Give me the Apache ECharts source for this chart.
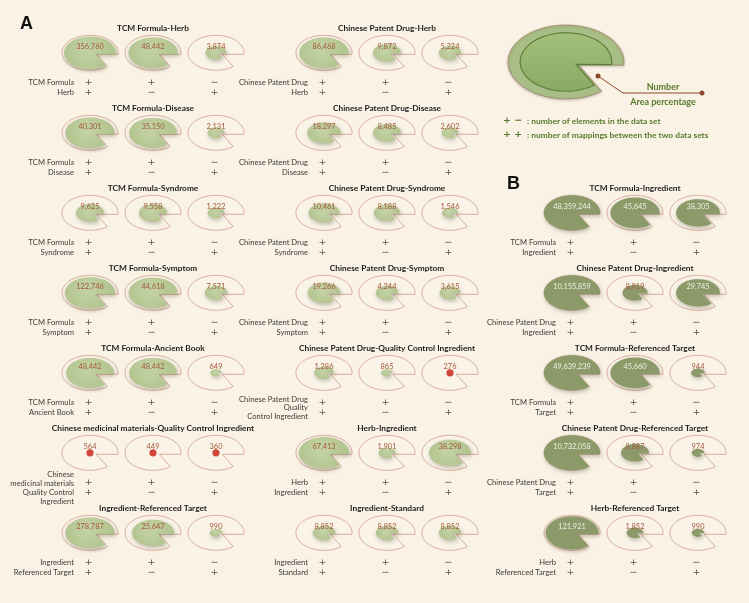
<!DOCTYPE html>
<html><head><meta charset="utf-8">
<script src="https://cdn.jsdelivr.net/npm/echarts@6/dist/echarts.min.js"></script>
<style>html,body{margin:0;padding:0;background:#faf2e5}#c{width:749px;height:603px}</style>
</head><body><div id="c"></div><script>
// ---------------- data ----------------
const panelTitles = [
 'TCM Formula-Herb','TCM Formula-Disease','TCM Formula-Syndrome','TCM Formula-Symptom','TCM Formula-Ancient Book','Chinese medicinal materials-Quality Control Ingredient','Ingredient-Referenced Target',
 'Chinese Patent Drug-Herb','Chinese Patent Drug-Disease','Chinese Patent Drug-Syndrome','Chinese Patent Drug-Symptom','Chinese Patent Drug-Quality Control Ingredient','Herb-Ingredient','Ingredient-Standard',
 'TCM Formula-Ingredient','Chinese Patent Drug-Ingredient','TCM Formula-Referenced Target','Chinese Patent Drug-Referenced Target','Herb-Referenced Target'];
const panelColumn = [0,0,0,0,0,0,0, 1,1,1,1,1,1,1, 2,2,2,2,2];
const panelRow    = [0,1,2,3,4,5,6, 0,1,2,3,4,5,6, 2,3,4,5,6];
const setLabels = [
 ['TCM Formula','Herb'],['TCM Formula','Disease'],['TCM Formula','Syndrome'],['TCM Formula','Symptom'],['TCM Formula','Ancient Book'],
 ['Chinese','medicinal materials','Quality Control','Ingredient'],['Ingredient','Referenced Target'],
 ['Chinese Patent Drug','Herb'],['Chinese Patent Drug','Disease'],['Chinese Patent Drug','Syndrome'],['Chinese Patent Drug','Symptom'],
 ['Chinese Patent Drug','Quality','Control Ingredient'],['Herb','Ingredient'],['Ingredient','Standard'],
 ['TCM Formula','Ingredient'],['Chinese Patent Drug','Ingredient'],['TCM Formula','Target'],['Chinese Patent Drug','Target'],['Herb','Referenced Target']];
const counts = [
 [356760,48442,3874],[40301,35150,2131],[9625,9558,1222],[122746,44618,7571],[48442,48442,649],[564,449,360],[278787,25647,990],
 [86468,9872,5224],[18297,8485,2602],[10461,8188,1546],[19266,4244,3615],[1286,865,276],[67413,1901,38298],[8852,8852,8852],
 [48359244,45645,38305],[10155859,8919,29745],[49639239,45660,944],[10732058,8887,974],[121921,1852,990]];
// estimated area percentage of the inner shape
const areaPercent = [
 [86,77,14],[77,72,9],[25,25,9],[80,75,16],[72,72,4],[0.5,0.5,0.5],[77,56,5],
 [77,25,16],[36,25,9],[30,22,8],[34,16,14],[12,4,0.5],[81,9,56],[16,16,16],
 [100,77,61],[100,20,61],[100,77,6],[100,25,5],[90,9,5]];
const signsTop    = ['+','+','\u2212'];
const signsBottom = ['+','\u2212','+'];
const sectionLetters = ['A','B'];

// ---------------- style ----------------
const FONT = 'Lato, "Open Sans", sans-serif';
const SIGN_FONT = '9.5px "DejaVu Sans", sans-serif';
const A = 28, B = 17.5;           // outer ellipse radii (px)
const TH1 = 5, TH2 = 52;          // wedge angles (deg)
const VX = 0.22, VY = 0.08;       // wedge vertex offset
const GLYPH_DY = 0.31, ROW1_DY = 0.6875, ROW2_DY = 0.8125;

function pacman(cx, cy, a, b, s) {
  const pts = [[cx + VX * a * s, cy + VY * b * s]];
  for (let t = TH1; t >= TH2 - 360; t -= 4) {
    const r = t * Math.PI / 180;
    pts.push([cx + a * s * Math.cos(r), cy + b * s * Math.sin(r)]);
  }
  const r2 = TH2 * Math.PI / 180;
  pts.push([cx + a * s * Math.cos(r2), cy + b * s * Math.sin(r2)]);
  return pts;
}

const gridLefts = [58.5, 292.5, 540.5];
const grids = gridLefts.map(l => ({left: l, width: 189, top: 0, bottom: 0}));
const xAxes = gridLefts.map((l, i) => ({type: 'value', gridIndex: i, min: -0.5, max: 2.5, show: false}));
const yAxes = gridLefts.map((l, i) => ({type: 'value', gridIndex: i, min: -0.35, max: 7.1875, inverse: true, show: false}));

const series = [];
for (let c = 0; c < 3; c++) {
  const glyphData = [], textData = [];
  panelTitles.forEach((t, p) => {
    if (panelColumn[p] !== c) return;
    textData.push([1, panelRow[p], p]);
    for (let g = 0; g < 3; g++) glyphData.push([g, panelRow[p], counts[p][g], areaPercent[p][g], p]);
  });
  series.push({
    type: 'custom', coordinateSystem: 'cartesian2d', xAxisIndex: c, yAxisIndex: c, clip: false,
    data: glyphData,
    renderItem: (params, api) => {
      const g = api.value(0), row = api.value(1), n = api.value(2), area = api.value(3);
      const isB = c === 2;
      const [cx, cy] = api.coord([g, row + GLYPH_DY]);
      const s = Math.sqrt(area / 100);
      const children = [{
        type: 'polygon', shape: {points: pacman(cx, cy, A, B, 1)},
        style: {fill: 'rgba(255,255,255,0.12)', stroke: '#cf9b8a', lineWidth: 0.8}
      }];
      if (area < 1) {
        children.push({type: 'circle', shape: {cx: cx, cy: cy, r: 3.6}, style: {fill: '#d2473b'}});
      } else {
        children.push({
          type: 'polygon', shape: {points: pacman(cx, cy, A, B, s)},
          style: {
            fill: isB ? '#8b9a68' : new echarts.graphic.RadialGradient(0.45, 0.4, 0.75, [{offset: 0, color: '#c4d3a6'}, {offset: 1, color: '#b2c48f'}]),
            shadowBlur: 4, shadowColor: 'rgba(70,70,40,0.35)', shadowOffsetX: 1, shadowOffsetY: 2
          }
        });
      }
      children.push({
        type: 'text', x: cx, y: cy - 6,
        style: {text: n.toLocaleString('en-US'), fill: (isB && s >= 0.7) ? '#eef0e2' : '#a4583a',
          font: '7.4px ' + FONT, align: 'center', verticalAlign: 'middle'}
      });
      return {type: 'group', children};
    }
  });
  series.push({
    type: 'custom', coordinateSystem: 'cartesian2d', xAxisIndex: c, yAxisIndex: c, clip: false,
    data: textData,
    renderItem: (params, api) => {
      const row = api.value(1), p = api.value(2);
      const [tx, ty] = api.coord([1, row]);
      const children = [{
        type: 'text', x: tx, y: ty,
        style: {text: panelTitles[p], fill: '#1c1c1c', font: 'bold 8.3px ' + FONT, align: 'center', verticalAlign: 'middle'}
      }];
      const lines = setLabels[p];
      const [lx, ly1] = api.coord([0, row + ROW1_DY]);
      const [, ly2] = api.coord([0, row + ROW2_DY]);
      children.push({
        type: 'text', x: lx - 16, y: (ly1 + ly2) / 2,
        style: {text: lines.join('\n'), fill: '#3c3c3c', font: '7.6px ' + FONT, align: 'right', verticalAlign: 'middle',
          lineHeight: lines.length === 2 ? (ly2 - ly1) : (lines.length === 3 ? 8.5 : 9)}
      });
      for (let g = 0; g < 3; g++) {
        const [sx, sy1] = api.coord([g, row + ROW1_DY]);
        const [, sy2] = api.coord([g, row + ROW2_DY]);
        children.push({type: 'text', x: sx - 1.5, y: sy1, style: {text: signsTop[g], fill: '#5a5a5a', font: SIGN_FONT, align: 'center', verticalAlign: 'middle'}});
        children.push({type: 'text', x: sx - 1.5, y: sy2, style: {text: signsBottom[g], fill: '#5a5a5a', font: SIGN_FONT, align: 'center', verticalAlign: 'middle'}});
      }
      return {type: 'group', children};
    }
  });
}

// legend illustration (decoration)
const LC = [566, 62];
const graphic = [
  {type: 'text', left: 20, top: 15, style: {text: sectionLetters[0], font: 'bold 18px "Liberation Sans", Arial, sans-serif', fill: '#111'}},
  {type: 'text', left: 507, top: 175, style: {text: sectionLetters[1], font: 'bold 18px "Liberation Sans", Arial, sans-serif', fill: '#111'}},
  {type: 'polygon', shape: {points: pacman(LC[0], LC[1], 58, 37, 1)},
    style: {fill: '#a9bd86', stroke: '#9b7c5e', lineWidth: 0.7, shadowBlur: 3, shadowColor: 'rgba(0,0,0,0.2)', shadowOffsetY: 1}},
  {type: 'polygon', shape: {points: pacman(LC[0], LC[1], 58, 37, 0.79)},
    style: {fill: new echarts.graphic.LinearGradient(0, 0, 0, 1, [{offset: 0, color: '#a2c079'}, {offset: 1, color: '#8aa962'}]),
      stroke: '#5f7f3c', lineWidth: 1.2}},
  {type: 'polyline', shape: {points: [[598, 76], [623, 93], [702, 93]]}, style: {stroke: '#8b4a2b', lineWidth: 1}},
  {type: 'circle', shape: {cx: 598, cy: 76, r: 2.5}, style: {fill: '#8b4a2b'}},
  {type: 'circle', shape: {cx: 702, cy: 93, r: 2.5}, style: {fill: '#8b4a2b'}},
  {type: 'text', x: 663, y: 87, style: {text: 'Number', fill: '#557a2c', font: 'bold 9px ' + FONT, align: 'center', verticalAlign: 'middle'}},
  {type: 'text', x: 663, y: 102, style: {text: 'Area percentage', fill: '#557a2c', font: 'bold 9px ' + FONT, align: 'center', verticalAlign: 'middle'}},
  {type: 'text', x: 503, y: 121, style: {text: '+ \u2212', fill: '#557a2c', font: 'bold 9.5px "DejaVu Sans", sans-serif', verticalAlign: 'middle'}},
  {type: 'text', x: 527, y: 121, style: {text: ': number of elements in the data set', fill: '#557a2c', font: 'bold 8.4px ' + FONT, verticalAlign: 'middle'}},
  {type: 'text', x: 503, y: 135, style: {text: '+ +', fill: '#557a2c', font: 'bold 9.5px "DejaVu Sans", sans-serif', verticalAlign: 'middle'}},
  {type: 'text', x: 527, y: 135, style: {text: ': number of mappings between the two data sets', fill: '#557a2c', font: 'bold 8.4px ' + FONT, verticalAlign: 'middle'}}
];

const chart = echarts.init(document.getElementById('c'), null, {renderer: 'canvas'});
chart.setOption({
  backgroundColor: '#faf2e5', animation: false,
  grid: grids, xAxis: xAxes, yAxis: yAxes, series, graphic
});
</script></body></html>
